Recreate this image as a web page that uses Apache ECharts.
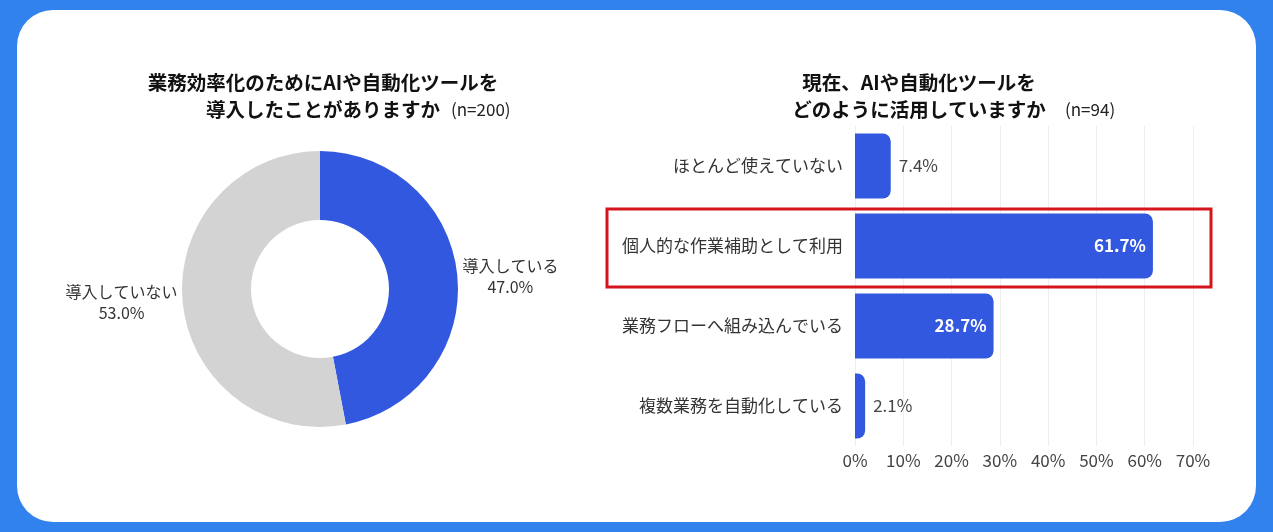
<!DOCTYPE html>
<html>
<head>
<meta charset="utf-8">
<script src="https://cdn.jsdelivr.net/npm/echarts@6/dist/echarts.min.js"></script>
<style>
  html, body { margin: 0; padding: 0; background: #3182ec; }
  #card { position: absolute; left: 17px; top: 10px; width: 1239px; height: 512px; background: #fff; border-radius: 36px; }
  #main { position: absolute; left: 0; top: 0; width: 1273px; height: 532px; }
</style>
</head>
<body>
<div id="card"></div>
<div id="main"></div>
<script>
var FONT = 'Noto Sans CJK JP';

// donut: 業務効率化のためにAIや自動化ツールを導入したことがありますか
var pieNames = ['導入している', '導入していない'];
var pieValues = [47.0, 53.0];
var pieColors = ['#3358e0', '#d3d3d3'];

// bars: 現在、AIや自動化ツールをどのように活用していますか
var barCategories = ['ほとんど使えていない', '個人的な作業補助として利用', '業務フローへ組み込んでいる', '複数業務を自動化している'];
var barValues = [7.4, 61.7, 28.7, 2.1];
var highlightIndex = 1;

var chart = echarts.init(document.getElementById('main'));

var pieData = pieNames.map(function (n, i) {
    return { name: n, value: pieValues[i], itemStyle: { color: pieColors[i] } };
});

var barData = barValues.map(function (v) {
    var inside = v > 10;
    return {
        value: v,
        label: inside
            ? { position: 'insideRight', color: '#fff', fontWeight: 'bold', distance: 7 }
            : { position: 'right', color: '#444', fontWeight: 'normal', distance: 8 }
    };
});

var option = {
    backgroundColor: 'transparent',
    textStyle: { fontFamily: FONT },
    title: [{
        text: '業務効率化のためにAIや自動化ツールを\n導入したことがありますか',
        left: 318, top: 64, textAlign: 'center',
        textStyle: { fontFamily: FONT, fontSize: 19.5, fontWeight: 'bold', color: '#111', lineHeight: 27 }
    }, {
        text: '(n=200)',
        left: 446, top: 96,
        textStyle: { fontFamily: FONT, fontSize: 17, fontWeight: 'normal', color: '#222' }
    }, {
        text: '現在、AIや自動化ツールを\nどのように活用していますか',
        left: 914, top: 64, textAlign: 'center',
        textStyle: { fontFamily: FONT, fontSize: 19.5, fontWeight: 'bold', color: '#111', lineHeight: 27 }
    }, {
        text: '(n=94)',
        left: 1060, top: 96,
        textStyle: { fontFamily: FONT, fontSize: 17, fontWeight: 'normal', color: '#222' }
    }],
    grid: { left: 855, right: 80, top: 126, bottom: 86 },
    xAxis: {
        type: 'value', min: 0, max: 70, interval: 10,
        axisLine: { show: false }, axisTick: { show: false },
        splitLine: { lineStyle: { color: '#eeeeee' } },
        axisLabel: { formatter: '{value}%', color: '#444', fontSize: 17, margin: 6, fontFamily: FONT }
    },
    yAxis: {
        type: 'category', data: barCategories, inverse: true,
        axisLine: { show: false }, axisTick: { show: false },
        axisLabel: { color: '#333', fontSize: 17, margin: 12, fontFamily: FONT }
    },
    series: [{
        type: 'pie',
        center: [320, 289],
        radius: [69, 138],
        startAngle: 90,
        clockwise: true,
        silent: true,
        data: pieData,
        label: {
            show: true,
            formatter: function (p) { return '{a|' + p.name + '}\n{a|' + p.value.toFixed(1) + '%}'; },
            rich: { a: { fontSize: 16, color: '#333', lineHeight: 21, align: 'center', fontFamily: FONT } }
        },
        labelLine: { show: false, length: 0, length2: 0 }
    }, {
        type: 'bar',
        data: barData,
        barWidth: 65,
        itemStyle: { color: '#3358e0', borderRadius: [0, 8, 8, 0] },
        label: {
            show: true, fontSize: 17, fontFamily: FONT,
            formatter: function (p) { return p.value.toFixed(1) + '%'; }
        }
    }]
};

chart.setOption(option);

// red highlight box around the emphasised category
var cy = chart.convertToPixel({ yAxisIndex: 0 }, barCategories[highlightIndex]);
chart.setOption({
    graphic: [{
        type: 'rect',
        shape: { x: 607, y: cy - 37, width: 604, height: 78 },
        style: { fill: 'none', stroke: '#d4151c', lineWidth: 3 },
        z: 100
    }]
});
</script>
</body>
</html>
